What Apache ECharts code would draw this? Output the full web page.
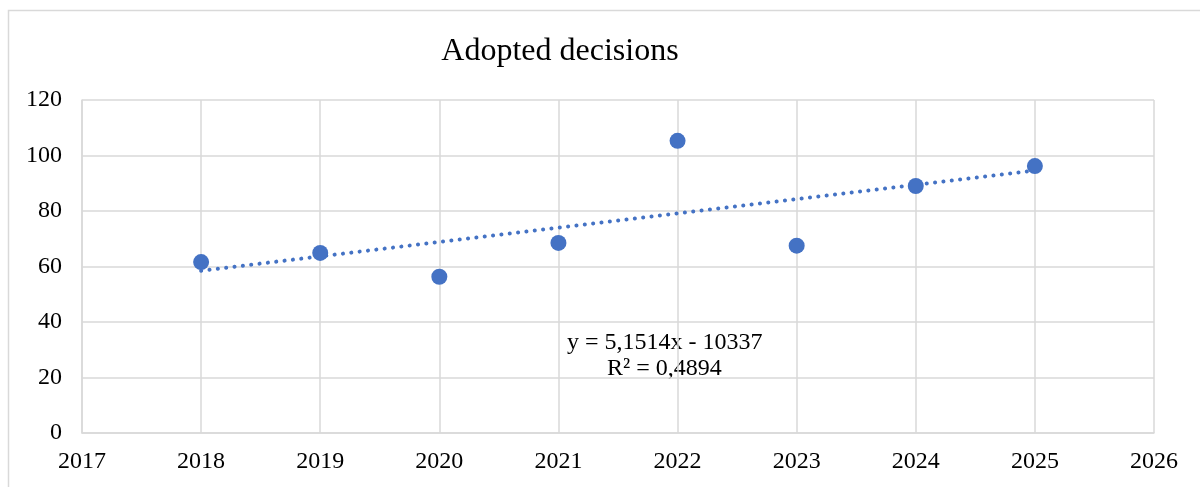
<!DOCTYPE html>
<html>
<head>
<meta charset="utf-8">
<script src="https://cdn.jsdelivr.net/npm/echarts@6/dist/echarts.min.js"></script>
<style>
  html, body { margin: 0; padding: 0; background: #fff; }
  #chart { width: 1200px; height: 487px; }
</style>
</head>
<body>
<div id="chart"></div>
<script>
var years = [2018, 2019, 2020, 2021, 2022, 2023, 2024, 2025];
var decisions = [61.6, 64.9, 56.3, 68.5, 105.3, 67.5, 89, 96.2];
// trendline endpoints as drawn (y = 5,1514x - 10337)
var trendYears = [2018, 2025];
var trendValues = [58.5, 94.6];
var equationText = 'y = 5,1514x - 10337';
var r2Text = 'R² = 0,4894';

var chart = echarts.init(document.getElementById('chart'));
var gridColor = '#d9d9d9';
var serif = '"Liberation Serif", "Times New Roman", serif';

chart.setOption({
    animation: false,
    title: {
        text: 'Adopted decisions',
        left: 555,
        textAlign: 'center',
        top: 31,
        textStyle: { fontFamily: serif, fontSize: 32, fontWeight: 'normal', color: '#000' }
    },
    grid: { left: 82, right: 46, top: 100, bottom: 54 },
    xAxis: {
        type: 'value',
        min: 2017,
        max: 2026,
        interval: 1,
        axisLine: { lineStyle: { color: gridColor, width: 1.5 } },
        axisTick: { show: false },
        axisLabel: {
            fontFamily: serif, fontSize: 24, color: '#000', margin: 17,
            formatter: function (v) { return String(v); }
        },
        splitLine: { show: true, lineStyle: { color: gridColor, width: 1.5 } }
    },
    yAxis: {
        type: 'value',
        min: 0,
        max: 120,
        interval: 20,
        axisLine: { show: true, lineStyle: { color: gridColor, width: 1.5 } },
        axisTick: { show: false },
        axisLabel: { fontFamily: serif, fontSize: 24, color: '#000', margin: 20 },
        splitLine: { show: true, lineStyle: { color: gridColor, width: 1.5 } }
    },
    graphic: [
        {
            type: 'rect',
            shape: { x: 8.5, y: 10.5, width: 1200, height: 490 },
            style: { fill: 'none', stroke: gridColor, lineWidth: 1.5 },
            z: -1
        },
        {
            type: 'text',
            left: 567,
            top: 331,
            style: { text: equationText, font: '24px ' + serif, fill: '#000' }
        },
        {
            type: 'text',
            left: 607,
            top: 357,
            style: { text: r2Text, font: '24px ' + serif, fill: '#000' }
        }
    ],
    series: [
        {
            type: 'line',
            data: trendYears.map(function (y, i) { return [y, trendValues[i]]; }),
            symbol: 'none',
            lineStyle: { color: '#4472C4', width: 4, type: [0.1, 8.3], cap: 'round' },
            z: 1
        },
        {
            type: 'scatter',
            data: years.map(function (y, i) { return [y, decisions[i]]; }),
            symbolSize: 16,
            itemStyle: { color: '#4472C4', opacity: 1 },
            z: 2
        }
    ]
});
</script>
</body>
</html>
